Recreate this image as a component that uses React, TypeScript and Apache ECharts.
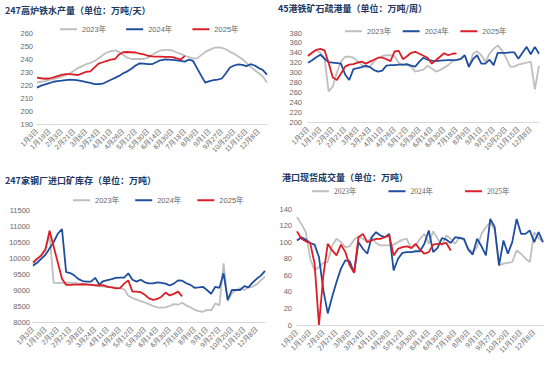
import React, { useEffect, useRef } from 'react';
import * as echarts from 'echarts';

const categories = [
  '1月3日', '1月8日', '1月13日', '1月19日', '1月24日', '1月29日', '2月3日', '2月9日', '2月15日', '2月21日',
  '2月26日', '3月3日', '3月8日', '3月13日', '3月19日', '3月24日', '3月30日', '4月5日', '4月11日', '4月16日',
  '4月21日', '4月26日', '5月2日', '5月7日', '5月12日', '5月18日', '5月24日', '5月30日', '6月4日', '6月9日',
  '6月14日', '6月19日', '6月24日', '6月30日', '7月6日', '7月12日', '7月18日', '7月25日', '8月2日', '8月9日',
  '8月16日', '8月24日', '9月1日', '9月9日', '9月18日', '9月27日', '10月5日', '10月13日', '10月20日', '10月29日',
  '11月6日', '11月15日', '11月22日', '11月30日', '12月8日', '12月16日', '12月24日',
];

const years = ['2023年', '2024年', '2025年'];

// 247高炉铁水产量
const furnace2023 = [
  222, 222.5, 223, 224, 224.5, 225.5, 226.5, 227.5, 229, 231,
  233, 234.5, 236, 237, 238.5, 240.5, 243, 245, 246, 246.7,
  245.5, 243, 241, 240, 240, 240, 240, 241, 243, 245,
  246.5, 247, 247, 246.5, 245, 244, 242.5, 241.5, 240.5, 240.5,
  243, 245.5, 247, 248.5, 249, 248.5, 247.5, 245.5, 244, 242,
  240, 237, 234, 231.5, 229, 226.5, 222,
];
const furnace2024 = [
  218, 219.5, 220.5, 221.5, 222.5, 223, 223.3, 223.8, 224.2, 224,
  223.5, 223, 222.3, 221.6, 220.7, 220.6, 221, 222.5, 224, 225.5,
  227, 229, 230.5, 232.5, 235, 236.6, 236.5, 236, 236, 237.5,
  239, 239.6, 239.5, 239.3, 239, 238.5, 238, 239.5, 238.5, 232.8,
  227, 221.8, 223, 223.8, 224.2, 225, 229, 233.5, 235, 235.8,
  235.5, 234.5, 236, 235, 233, 231.5, 228,
];
const furnace2025 = [
  225.7, 225.2, 224.8, 225, 225.8, 226.8, 227.8, 228.3, 228.3, 228,
  227.7, 229, 230.2, 230.5, 233.5, 236.5, 237.5, 238.5, 239.5, 240,
  243.5, 245.2, 245.4, 245.2, 245, 244.2, 243.5, 242.5, 242, 241.9,
  241.8, 241.7, 241.6, 241.5, 240.5, 239.6, 242.4,
];

// 45港铁矿石疏港量
const portOut2023 = [
  333, 341, 345, 340, 330, 262, 272, 300, 322, 332,
  332, 330, 323, 316, 310, 312, 322, 330, 333, 335,
  335, 333, 320, 315, 315, 312, 302, 304, 306, 314,
  308, 302, 305, 310, 315, 323, 325, 328, 335, 310,
  338, 343, 335, 322, 338, 348, 355, 345, 330, 312,
  312, 316, 318, 320, 322, 266, 314,
];
const portOut2024 = [
  320, 325, 331, 336, 328, 321, 320, 319, 318, 296,
  285, 307, 309, 311, 314, 311, 305, 302, 304, 314,
  315, 315, 316, 316, 317, 314, 312, 322, 330, 326,
  324, 323, 324, 324.5, 325, 325, 325.5, 327, 335, 312,
  327, 335, 318, 318, 326, 315, 340, 340, 340, 341,
  341, 328, 340, 352, 337, 352, 338,
];
const portOut2025 = [
  334, 340, 346, 348, 345, 320, 290, 285, 298, 312,
  316, 317, 320, 322, 318, 322, 326, 330, 330, 327,
  323, 343, 344, 327, 333, 340, 342, 338, 334, 330,
  318, 325, 332, 339, 335, 338, 339,
];

// 247家钢厂进口矿库存
const stock2023 = [
  9800, 9950, 10100, 10300, 10700, 9220, 9220, 9220, 9220, 9230,
  9220, 9200, 9200, 9190, 9170, 9130, 9120, 9110, 9100, 9090,
  9080, 9060, 9020, 8820, 8750, 8700, 8650, 8610, 8560, 8500,
  8460, 8450, 8460, 8500, 8560, 8540, 8600, 8520, 8460, 8380,
  8340, 8320, 8380, 8360, 8580, 8520, 9830, 8650, 8900, 9000,
  9060, 9000, 9080, 9100, 9180, 9300, 9420,
];
const stock2024 = [
  9760, 9850, 9980, 10100, 10300, 10500, 10760, 10900, 9560, 9530,
  9450, 9340, 9280, 9260, 9260, 9380, 9170, 9280, 9310, 9340,
  9380, 9385, 9390, 9520, 9320, 9260, 9320, 9240, 9210, 9210,
  9240, 9220, 9200, 9140, 9200, 9300, 9290, 9210, 9160, 9070,
  9080, 9100, 9000, 8880, 9100, 9070, 9520, 8690, 9000, 9000,
  9000, 9120, 9080, 9230, 9350, 9450, 9600,
];
const stock2025 = [
  9860, 9980, 10080, 10260, 10850, 10350, 9850, 9350, 9160, 9160,
  9170, 9170, 9180, 9170, 9160, 9150, 9140, 9150, 9100, 9080,
  9050, 9060, 9200, 9300, 8950, 8950, 8930, 8850, 8740, 8690,
  8720, 8790, 8920, 8830, 8880, 8950, 8800,
];

// 港口现货成交量
const trade2023 = [
  130, 122, 112, 80, 66, 70, 75, 76, 96, 104,
  100, 94, 95, 103, 107, 104, 100, 106, 99, 96,
  96, 96, 97, 100, 103, 104, 92, 96, 104, 110,
  98, 113, 104, 96, 108, 104, 98, 106, 103, 92,
  88, 94, 110, 118, 124, 115, 72, 74, 75, 76,
  90, 86, 80, 76, 112, 105, 100,
];
const trade2024 = [
  102, 106, 103, 99, 97, 82, 42, 14, 34, 52,
  68, 78, 77, 63, 100, 92, 86, 106, 112, 108,
  106, 110, 66, 80, 87, 88, 88, 89, 89, 98,
  114, 88, 93, 105, 103, 99, 106, 105, 104, 91,
  85, 104, 95, 84, 128, 118, 72, 102, 86, 100,
  128, 110, 110, 114, 100, 112, 100,
];
const trade2025 = [
  113, 104, 101, 99, 74, 0, 60, 98, 90, 84,
  97, 88, 72, 63, 106, 110, 100, 102, 104, 104,
  106, 108, 84, 92, 94, 95, 93, 98, 91, 86,
  88, 97, 98, 98, 99, 90,
];

const colors = ['#BFBFBF', '#1F4E9E', '#DC1E28'];
const TITLE_COLOR = '#203864';
const LABEL_COLOR = '#666666';
const SANS = 'Liberation Sans, Noto Sans CJK SC, sans-serif';
const LABEL_STEP = 3;

const panels = [
  {
    title: '247高炉铁水产量（单位：万吨/天）',
    titlePos: { left: 5, top: 4 },
    legend: { left: 60, top: 25.5, gap: 20, font: SANS },
    grid: { left: 37, top: 33, width: 230, height: 91 },
    y: { min: 190, max: 260, interval: 10, margin: 4 },
    series: [furnace2023, furnace2024, furnace2025],
  },
  {
    title: '45港铁矿石疏港量（单位：万吨/周）',
    titlePos: { left: 278, top: 2.5 },
    legend: { left: 345, top: 27.5, gap: 11.5, font: SANS },
    grid: { left: 308, top: 33, width: 231, height: 89 },
    y: { min: 200, max: 380, interval: 20, margin: 6 },
    series: [portOut2023, portOut2024, portOut2025],
  },
  {
    title: '247家钢厂进口矿库存（单位：万吨）',
    titlePos: { left: 5, top: 174 },
    legend: { left: 73, top: 196.5, gap: 16, font: SANS },
    grid: { left: 33, top: 210, width: 232, height: 112 },
    y: { min: 8000, max: 11500, interval: 500, margin: 3 },
    series: [stock2023, stock2024, stock2025],
  },
  {
    title: '港口现货成交量（单位：万吨）',
    titlePos: { left: 282, top: 171 },
    legend: { left: 312, top: 187.5, gap: 32, font: 'Liberation Serif, Noto Sans CJK SC, serif' },
    grid: { left: 297, top: 209, width: 246, height: 116 },
    y: { min: 0, max: 140, interval: 20, margin: 5 },
    series: [trade2023, trade2024, trade2025],
  },
];

function buildOption() {
  return {
    animation: false,
    backgroundColor: '#ffffff',
    title: panels.map((p) => ({
      text: p.title,
      left: p.titlePos.left,
      top: p.titlePos.top,
      padding: 0,
      textStyle: {
        fontSize: 9,
        fontWeight: 'bold',
        color: TITLE_COLOR,
        fontFamily: 'Noto Sans CJK SC, sans-serif',
        lineHeight: 12,
      },
    })),
    legend: panels.map((p) => ({
      data: years,
      left: p.legend.left,
      top: p.legend.top,
      itemGap: p.legend.gap,
      itemWidth: 17,
      itemHeight: 2,
      icon: 'rect',
      padding: 0,
      textStyle: { fontSize: 7.5, color: LABEL_COLOR, fontFamily: p.legend.font },
      selectedMode: false,
    })),
    grid: panels.map((p) => ({ ...p.grid, containLabel: false })),
    xAxis: panels.map((p, i) => ({
      type: 'category',
      gridIndex: i,
      data: categories,
      boundaryGap: false,
      axisLine: { show: true, lineStyle: { color: '#D9D9D9', width: 1 } },
      axisTick: { show: false },
      axisLabel: {
        rotate: 45,
        interval: (idx: number) => idx % LABEL_STEP === 0,
        hideOverlap: false,
        fontSize: 7,
        color: LABEL_COLOR,
        margin: 6,
        fontFamily: SANS,
      },
      splitLine: { show: false },
    })),
    yAxis: panels.map((p, i) => ({
      type: 'value',
      gridIndex: i,
      min: p.y.min,
      max: p.y.max,
      interval: p.y.interval,
      axisLine: { show: false },
      axisTick: { show: false },
      splitLine: { show: false },
      axisLabel: {
        fontSize: 7.5,
        color: LABEL_COLOR,
        margin: p.y.margin,
        fontFamily: SANS,
        formatter: (v: number) => String(v),
      },
    })),
    series: panels.flatMap((p, i) =>
      p.series.map((d, k) => ({
        type: 'line',
        name: years[k],
        xAxisIndex: i,
        yAxisIndex: i,
        data: d,
        symbol: 'none',
        showSymbol: false,
        color: colors[k],
        lineStyle: { color: colors[k], width: 1.8 },
        z: 2 + k,
      }))
    ),
  };
}

export default function App() {
  const ref = useRef<HTMLDivElement>(null);
  useEffect(() => {
    document.body.style.margin = '0';
    const chart = echarts.init(ref.current as HTMLDivElement, null, { renderer: 'svg' });
    chart.setOption(buildOption() as any);
    return () => {
      chart.dispose();
    };
  }, []);
  return <div ref={ref} style={{ width: 550, height: 366 }} />;
}
